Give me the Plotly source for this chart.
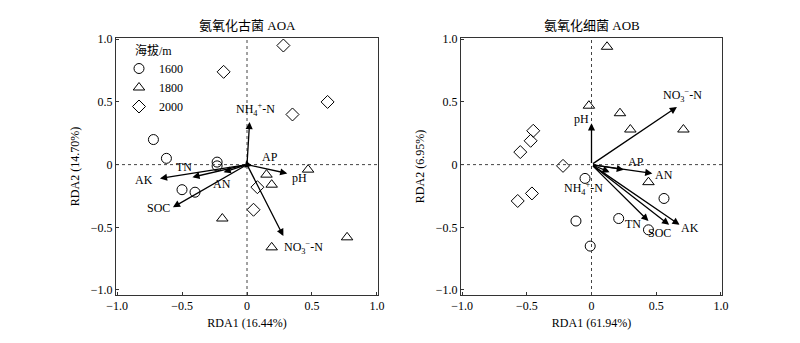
import plotly.graph_objects as go

# ---- site scores (RDA1, RDA2) by altitude ----
altitudes = ["1600", "1800", "2000"]

aoa_1600_x = [-0.72, -0.62, -0.23, -0.23, -0.50, -0.40]
aoa_1600_y = [0.20, 0.05, 0.02, -0.01, -0.20, -0.22]
aoa_1800_x = [0.47, 0.15, 0.19, -0.19, 0.19, 0.77]
aoa_1800_y = [-0.04, -0.08, -0.16, -0.43, -0.66, -0.58]
aoa_2000_x = [0.28, -0.18, 0.62, 0.35, 0.08, 0.05]
aoa_2000_y = [0.95, 0.74, 0.50, 0.40, -0.18, -0.36]

aob_1600_x = [-0.05, 0.56, -0.12, 0.21, 0.44, -0.01]
aob_1600_y = [-0.11, -0.27, -0.45, -0.43, -0.52, -0.65]
aob_1800_x = [0.12, -0.02, 0.22, 0.30, 0.71, 0.44]
aob_1800_y = [0.94, 0.47, 0.41, 0.28, 0.28, -0.14]
aob_2000_x = [-0.45, -0.47, -0.55, -0.22, -0.46, -0.57]
aob_2000_y = [0.27, 0.19, 0.10, -0.01, -0.23, -0.29]

# ---- environmental factor loadings ----
env_names = ["NH4", "AP", "pH", "NO3", "AK", "TN", "AN", "SOC"]
env_labels = {
    "NH4": "NH<sub>4</sub><sup>+</sup>-N",
    "AP": "AP",
    "pH": "pH",
    "NO3": "NO<sub>3</sub><sup>−</sup>-N",
    "AK": "AK",
    "TN": "TN",
    "AN": "AN",
    "SOC": "SOC",
}
aoa_env_x = [0.02, 0.04, 0.31, 0.28, -0.67, -0.42, -0.18, -0.57]
aoa_env_y = [0.34, -0.01, -0.07, -0.57, -0.11, -0.10, -0.06, -0.34]
aob_env_x = [0.14, 0.25, 0.00, 0.66, 0.68, 0.44, 0.47, 0.60]
aob_env_y = [-0.06, -0.04, 0.33, 0.46, -0.48, -0.45, -0.07, -0.48]

titles = ["氨氧化古菌 AOA", "氨氧化细菌 AOB"]
x_titles = ["RDA1 (16.44%)", "RDA1 (61.94%)"]
y_titles = ["RDA2 (14.70%)", "RDA2 (6.95%)"]
legend_title = "海拔/m"
tick_vals = [-1.0, -0.5, 0, 0.5, 1.0]
tick_text = ["−1.0", "−0.5", "0", "0.5", "1.0"]

# label offsets (pixels) relative to arrow tips
aoa_label_shift = {
    "NH4": (6, 12), "AP": (18, 9), "pH": (12, -5), "NO3": (20, -11),
    "AK": (-16, -2), "TN": (-8, 10), "AN": (-2, -12), "SOC": (-14, -1),
}
aob_label_shift = {
    "NH4": (-26, -16), "AP": (12, 8), "pH": (-10, 4), "NO3": (6, 11),
    "AK": (10, -3), "TN": (-15, -3), "AN": (12, -2), "SOC": (-10, -8),
}

FONT = "Liberation Serif, Times New Roman, Noto Sans CJK SC, serif"
symbols = {"1600": "circle-open", "1800": "triangle-up-open", "2000": "diamond-open"}

fig = go.Figure()

panels = [
    dict(xa="x", ya="y",
         pts={"1600": (aoa_1600_x, aoa_1600_y), "1800": (aoa_1800_x, aoa_1800_y),
              "2000": (aoa_2000_x, aoa_2000_y)},
         ex=aoa_env_x, ey=aoa_env_y, shift=aoa_label_shift, legend=True),
    dict(xa="x2", ya="y2",
         pts={"1600": (aob_1600_x, aob_1600_y), "1800": (aob_1800_x, aob_1800_y),
              "2000": (aob_2000_x, aob_2000_y)},
         ex=aob_env_x, ey=aob_env_y, shift=aob_label_shift, legend=False),
]

annotations = []
shapes = []
for p in panels:
    for alt in altitudes:
        xs, ys = p["pts"][alt]
        fig.add_trace(go.Scatter(
            x=xs, y=ys, mode="markers", name=alt, xaxis=p["xa"], yaxis=p["ya"],
            showlegend=p["legend"],
            marker=dict(symbol=symbols[alt], size=10, color="black",
                        line=dict(width=1, color="black")),
        ))
    # dotted zero lines
    shapes.append(dict(type="line", xref=p["xa"] + " domain", yref=p["ya"],
                       x0=0, x1=1, y0=0, y1=0,
                       line=dict(color="#444", width=1, dash="dot")))
    shapes.append(dict(type="line", xref=p["xa"], yref=p["ya"] + " domain",
                       x0=0, x1=0, y0=0, y1=1,
                       line=dict(color="#444", width=1, dash="dot")))
    # loading arrows and their labels
    for name, ex, ey in zip(env_names, p["ex"], p["ey"]):
        annotations.append(dict(
            x=ex, y=ey, ax=0, ay=0, xref=p["xa"], yref=p["ya"],
            axref=p["xa"], ayref=p["ya"], text="", showarrow=True,
            arrowhead=2, arrowsize=1.1, arrowwidth=1.3, arrowcolor="black",
        ))
        dx, dy = p["shift"][name]
        annotations.append(dict(
            x=ex, y=ey, xref=p["xa"], yref=p["ya"], text=env_labels[name],
            showarrow=False, xshift=dx, yshift=dy,
            font=dict(family=FONT, size=12, color="black"),
        ))

# panel titles
for title, xa in zip(titles, ["x", "x2"]):
    annotations.append(dict(text=title, xref=xa + " domain", yref="paper",
                            x=0.5, y=1 - 16 / 343, showarrow=False,
                            font=dict(family=FONT, size=13, color="black")))

# legend heading
annotations.append(dict(text=legend_title, xref="paper", yref="paper",
                        x=133 / 800, y=1 - 50 / 343, xanchor="left", yanchor="middle",
                        showarrow=False,
                        font=dict(family=FONT, size=12, color="black")))

axis_common = dict(
    range=[-1.008, 1.008], tickvals=tick_vals, ticktext=tick_text,
    ticks="inside", ticklen=3, tickcolor="#333", showline=True, mirror=True,
    linecolor="#333", linewidth=1, showgrid=False, zeroline=False,
    automargin=False,
    tickfont=dict(family=FONT, size=12, color="black"),
    title_font=dict(family=FONT, size=12, color="black"),
)
yaxis_common = dict(axis_common, range=[-1.04, 1.01])

fig.update_layout(
    width=800, height=343, margin=dict(l=0, r=0, t=0, b=0),
    paper_bgcolor="white", plot_bgcolor="white",
    xaxis=dict(axis_common, domain=[116 / 800, 378 / 800], anchor="y",
               title=dict(text=x_titles[0], standoff=6)),
    yaxis=dict(yaxis_common, domain=[1 - 295 / 343, 1 - 38 / 343], anchor="x",
               title=dict(text=y_titles[0], standoff=8)),
    xaxis2=dict(axis_common, domain=[461 / 800, 722 / 800], anchor="y2",
                title=dict(text=x_titles[1], standoff=6)),
    yaxis2=dict(yaxis_common, domain=[1 - 295 / 343, 1 - 38 / 343], anchor="x2",
                title=dict(text=y_titles[1], standoff=8)),
    showlegend=True,
    legend=dict(x=119 / 800, y=1 - 54 / 343, xanchor="left", yanchor="top",
                bgcolor="rgba(0,0,0,0)", borderwidth=0,
                font=dict(family=FONT, size=12, color="black"),
                itemwidth=30, tracegroupgap=0),
    annotations=annotations, shapes=shapes,
)

fig.write_html("out.html")
